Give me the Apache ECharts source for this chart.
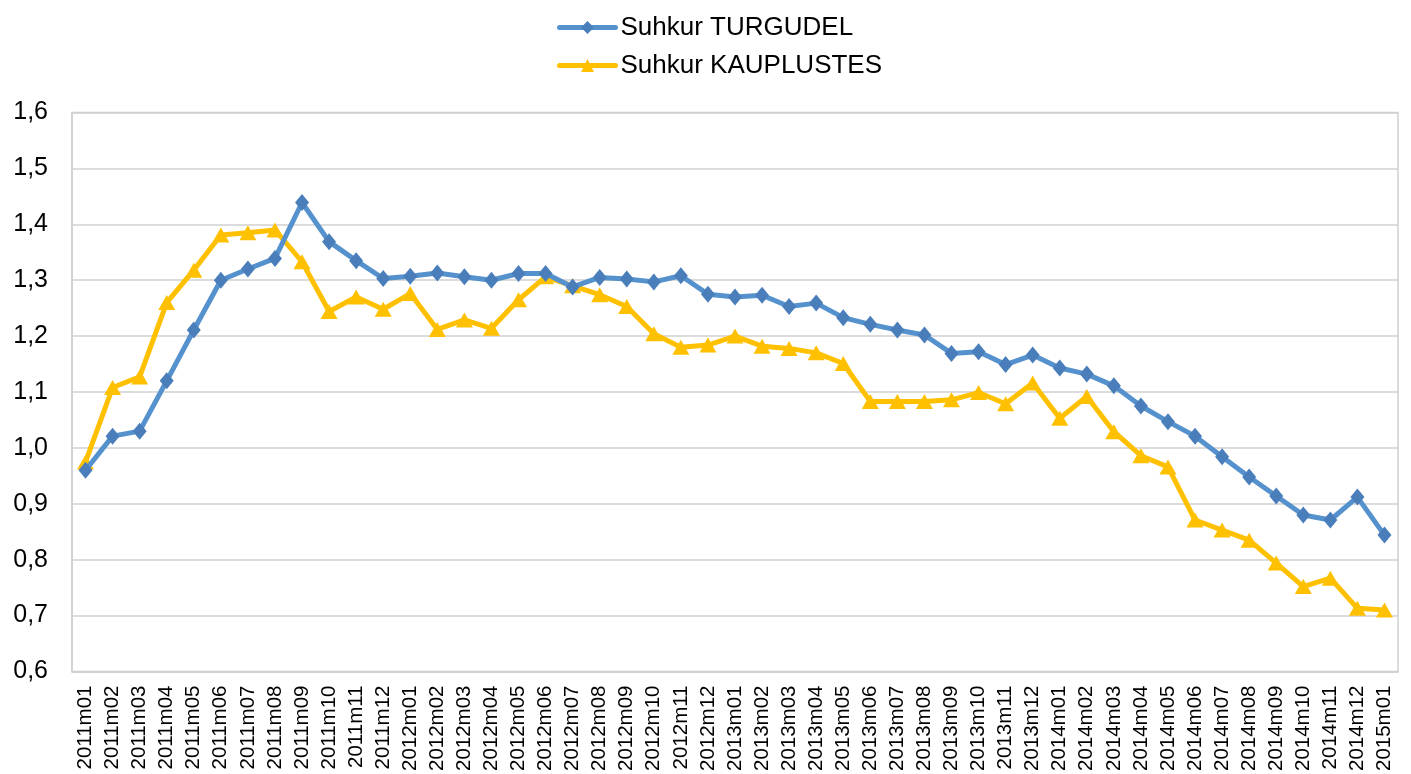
<!DOCTYPE html>
<html>
<head>
<meta charset="utf-8">
<script src="https://cdn.jsdelivr.net/npm/echarts@6/dist/echarts.min.js"></script>
<style>html,body{margin:0;padding:0;background:#fff;}#c{width:1411px;height:774px;}</style>
</head>
<body>
<div id="c"></div>
<script>
const categories = [
  '2011m01','2011m02','2011m03','2011m04','2011m05','2011m06','2011m07','2011m08','2011m09','2011m10','2011m11','2011m12',
  '2012m01','2012m02','2012m03','2012m04','2012m05','2012m06','2012m07','2012m08','2012m09','2012m10','2012m11','2012m12',
  '2013m01','2013m02','2013m03','2013m04','2013m05','2013m06','2013m07','2013m08','2013m09','2013m10','2013m11','2013m12',
  '2014m01','2014m02','2014m03','2014m04','2014m05','2014m06','2014m07','2014m08','2014m09','2014m10','2014m11','2014m12',
  '2015m01'
];
const turgudel = [
  0.960,1.021,1.030,1.120,1.211,1.300,1.320,1.339,1.439,1.369,1.335,1.303,
  1.307,1.313,1.306,1.300,1.312,1.312,1.288,1.305,1.302,1.297,1.308,1.275,
  1.270,1.273,1.253,1.259,1.233,1.221,1.211,1.202,1.169,1.172,1.149,1.166,
  1.143,1.132,1.111,1.075,1.047,1.021,0.984,0.948,0.914,0.880,0.871,0.912,
  0.844
];
const kauplustes = [
  0.975,1.108,1.127,1.260,1.318,1.381,1.385,1.390,1.333,1.244,1.270,1.248,
  1.276,1.212,1.229,1.214,1.265,1.306,1.290,1.274,1.253,1.204,1.180,1.184,
  1.200,1.182,1.178,1.170,1.151,1.083,1.083,1.083,1.086,1.099,1.079,1.116,
  1.053,1.092,1.029,0.986,0.966,0.871,0.853,0.835,0.794,0.752,0.767,0.713,
  0.710
];
const seriesNames = ['Suhkur TURGUDEL', 'Suhkur KAUPLUSTES'];

const chart = echarts.init(document.getElementById('c'), null, {renderer: 'canvas'});
const font = '"Liberation Sans", Arial, sans-serif';
chart.setOption({
  animation: false,
  backgroundColor: '#ffffff',
  legend: {
    orient: 'vertical',
    left: 557,
    top: 13,
    padding: 0,
    itemWidth: 56,
    itemHeight: 16,
    itemGap: 9,
    align: 'left',
    lineStyle: {width: 5, cap: 'round'},
    textStyle: {fontFamily: font, fontSize: 26, color: '#000', lineHeight: 29},
    data: seriesNames
  },
  grid: {
    left: 72, right: 13, top: 112.5, bottom: 102.5,
    show: true, borderColor: '#d0d0d0', borderWidth: 1.5
  },
  xAxis: {
    type: 'category',
    data: categories,
    boundaryGap: true,
    axisLine: {show: true, lineStyle: {color: '#d0d0d0', width: 1.5}},
    axisTick: {show: false},
    axisLabel: {rotate: 90, interval: 0, margin: 14, fontFamily: font, fontSize: 20.5, color: '#000'}
  },
  yAxis: {
    type: 'value',
    min: 0.6, max: 1.6, interval: 0.1,
    axisLine: {show: true, lineStyle: {color: '#d0d0d0', width: 1.5}},
    axisTick: {show: false},
    splitLine: {show: true, lineStyle: {color: '#d0d0d0', width: 1.5}},
    axisLabel: {
      margin: 24, fontFamily: font, fontSize: 25, color: '#000',
      formatter: v => v.toFixed(1).replace('.', ',')
    }
  },
  series: [
    {
      name: seriesNames[0], type: 'line', data: turgudel,
      symbol: 'diamond', symbolSize: [14, 17],
      lineStyle: {color: '#5592CD', width: 5},
      itemStyle: {color: '#4A7EBB'},
      z: 3
    },
    {
      name: seriesNames[1], type: 'line', data: kauplustes,
      symbol: 'triangle', symbolSize: [17, 15],
      lineStyle: {color: '#FFC000', width: 5},
      itemStyle: {color: '#FFC000'},
      z: 2
    }
  ]
});
</script>
</body>
</html>
